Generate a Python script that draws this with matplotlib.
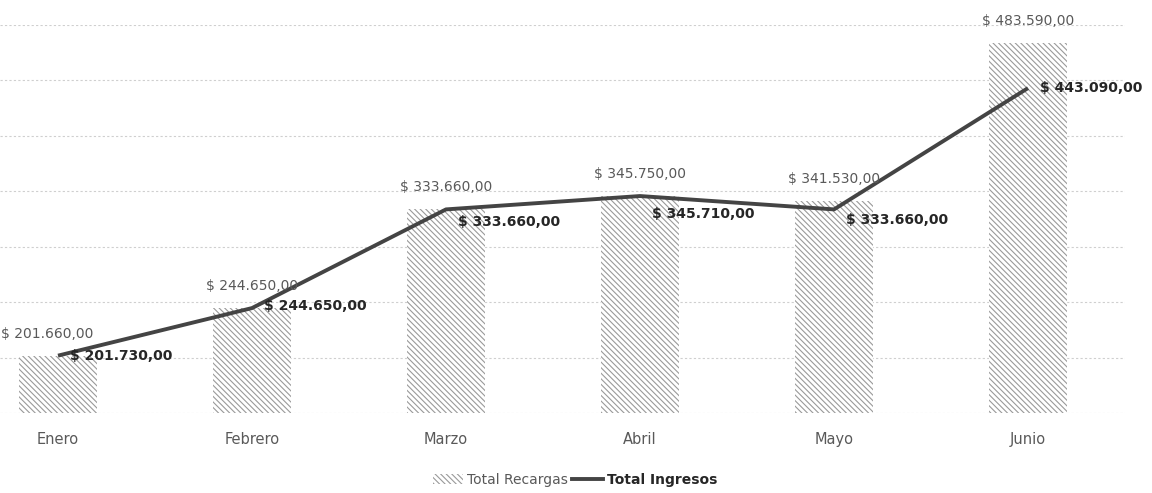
import matplotlib
matplotlib.use("Agg")
import matplotlib.pyplot as plt
from matplotlib.patches import Patch
from matplotlib.lines import Line2D
import numpy as np

meses = ["Enero", "Febrero", "Marzo", "Abril", "Mayo", "Junio"]
total_recargas = [201660, 244650, 333660, 345750, 341530, 483590]
total_ingresos = [201730, 244650, 333660, 345710, 333660, 443090]


def fmt(v):
    s = f"{v:,.2f}".replace(",", "X").replace(".", ",").replace("X", ".")
    return "$ " + s


plt.rcParams['font.family'] = ['DejaVu Sans']
plt.rcParams['hatch.linewidth'] = 0.8

fig = plt.figure(figsize=(11.52, 4.93), dpi=100)
ax = fig.add_axes([0.0, 80 / 493, 1125 / 1152, 388 / 493])

x = np.arange(len(meses))
ax.bar(x, total_recargas, width=0.4, color='white', edgecolor='#9a9a9a',
       linewidth=0, hatch='\\\\\\\\\\\\', zorder=2)
ax.plot(x, total_ingresos, color='#444444', linewidth=2.8, zorder=3,
        solid_capstyle='butt')

ax.set_xlim(-0.299, 5.5)
ax.set_ylim(150000, 500000)
ax.set_yticks(np.arange(150000, 500001, 50000))
ax.yaxis.grid(True, color='#cfcfcf', linestyle=(0, (2, 2)), linewidth=0.8, zorder=0)
ax.set_yticklabels([])
ax.tick_params(axis='y', length=0)
ax.tick_params(axis='x', length=0, pad=14, labelcolor='#595959', labelsize=10.5)
ax.set_xticks(x)
ax.set_xticklabels(meses)
for s in ax.spines.values():
    s.set_visible(False)

# etiquetas de las barras (la primera se apoya en el borde izquierdo)
for i, v in enumerate(total_recargas):
    if i == 0:
        ax.annotate(fmt(v), xy=(i, v), xytext=(-57, 15), textcoords='offset pixels',
                    ha='left', va='bottom', fontsize=10, color='#595959')
    else:
        ax.annotate(fmt(v), xy=(i, v), xytext=(0, 15), textcoords='offset pixels',
                    ha='center', va='bottom', fontsize=10, color='#595959')

# etiquetas de la linea
line_dy = [0, 2, -13, -18, -11, 0]
for i, v in enumerate(total_ingresos):
    ax.annotate(fmt(v), xy=(i, v), xytext=(12, line_dy[i]), textcoords='offset pixels',
                ha='left', va='center', fontsize=10, color='#262626', fontweight='bold')

handles = [Patch(facecolor='white', edgecolor='#9a9a9a', hatch='\\\\\\\\\\\\', linewidth=0),
           Line2D([0], [0], color='#444444', linewidth=2.8)]
leg = fig.legend(handles, ["Total Recargas", "Total Ingresos"], loc='center',
                 bbox_to_anchor=(575 / 1152, 1 - 480 / 493), ncol=2, frameon=False,
                 fontsize=10, handlelength=2.2, columnspacing=0.3, handletextpad=0.3)
texts = leg.get_texts()
texts[0].set_color('#595959')
texts[1].set_color('#262626')
texts[1].set_fontweight('bold')

fig.savefig("out.png", dpi=100)
